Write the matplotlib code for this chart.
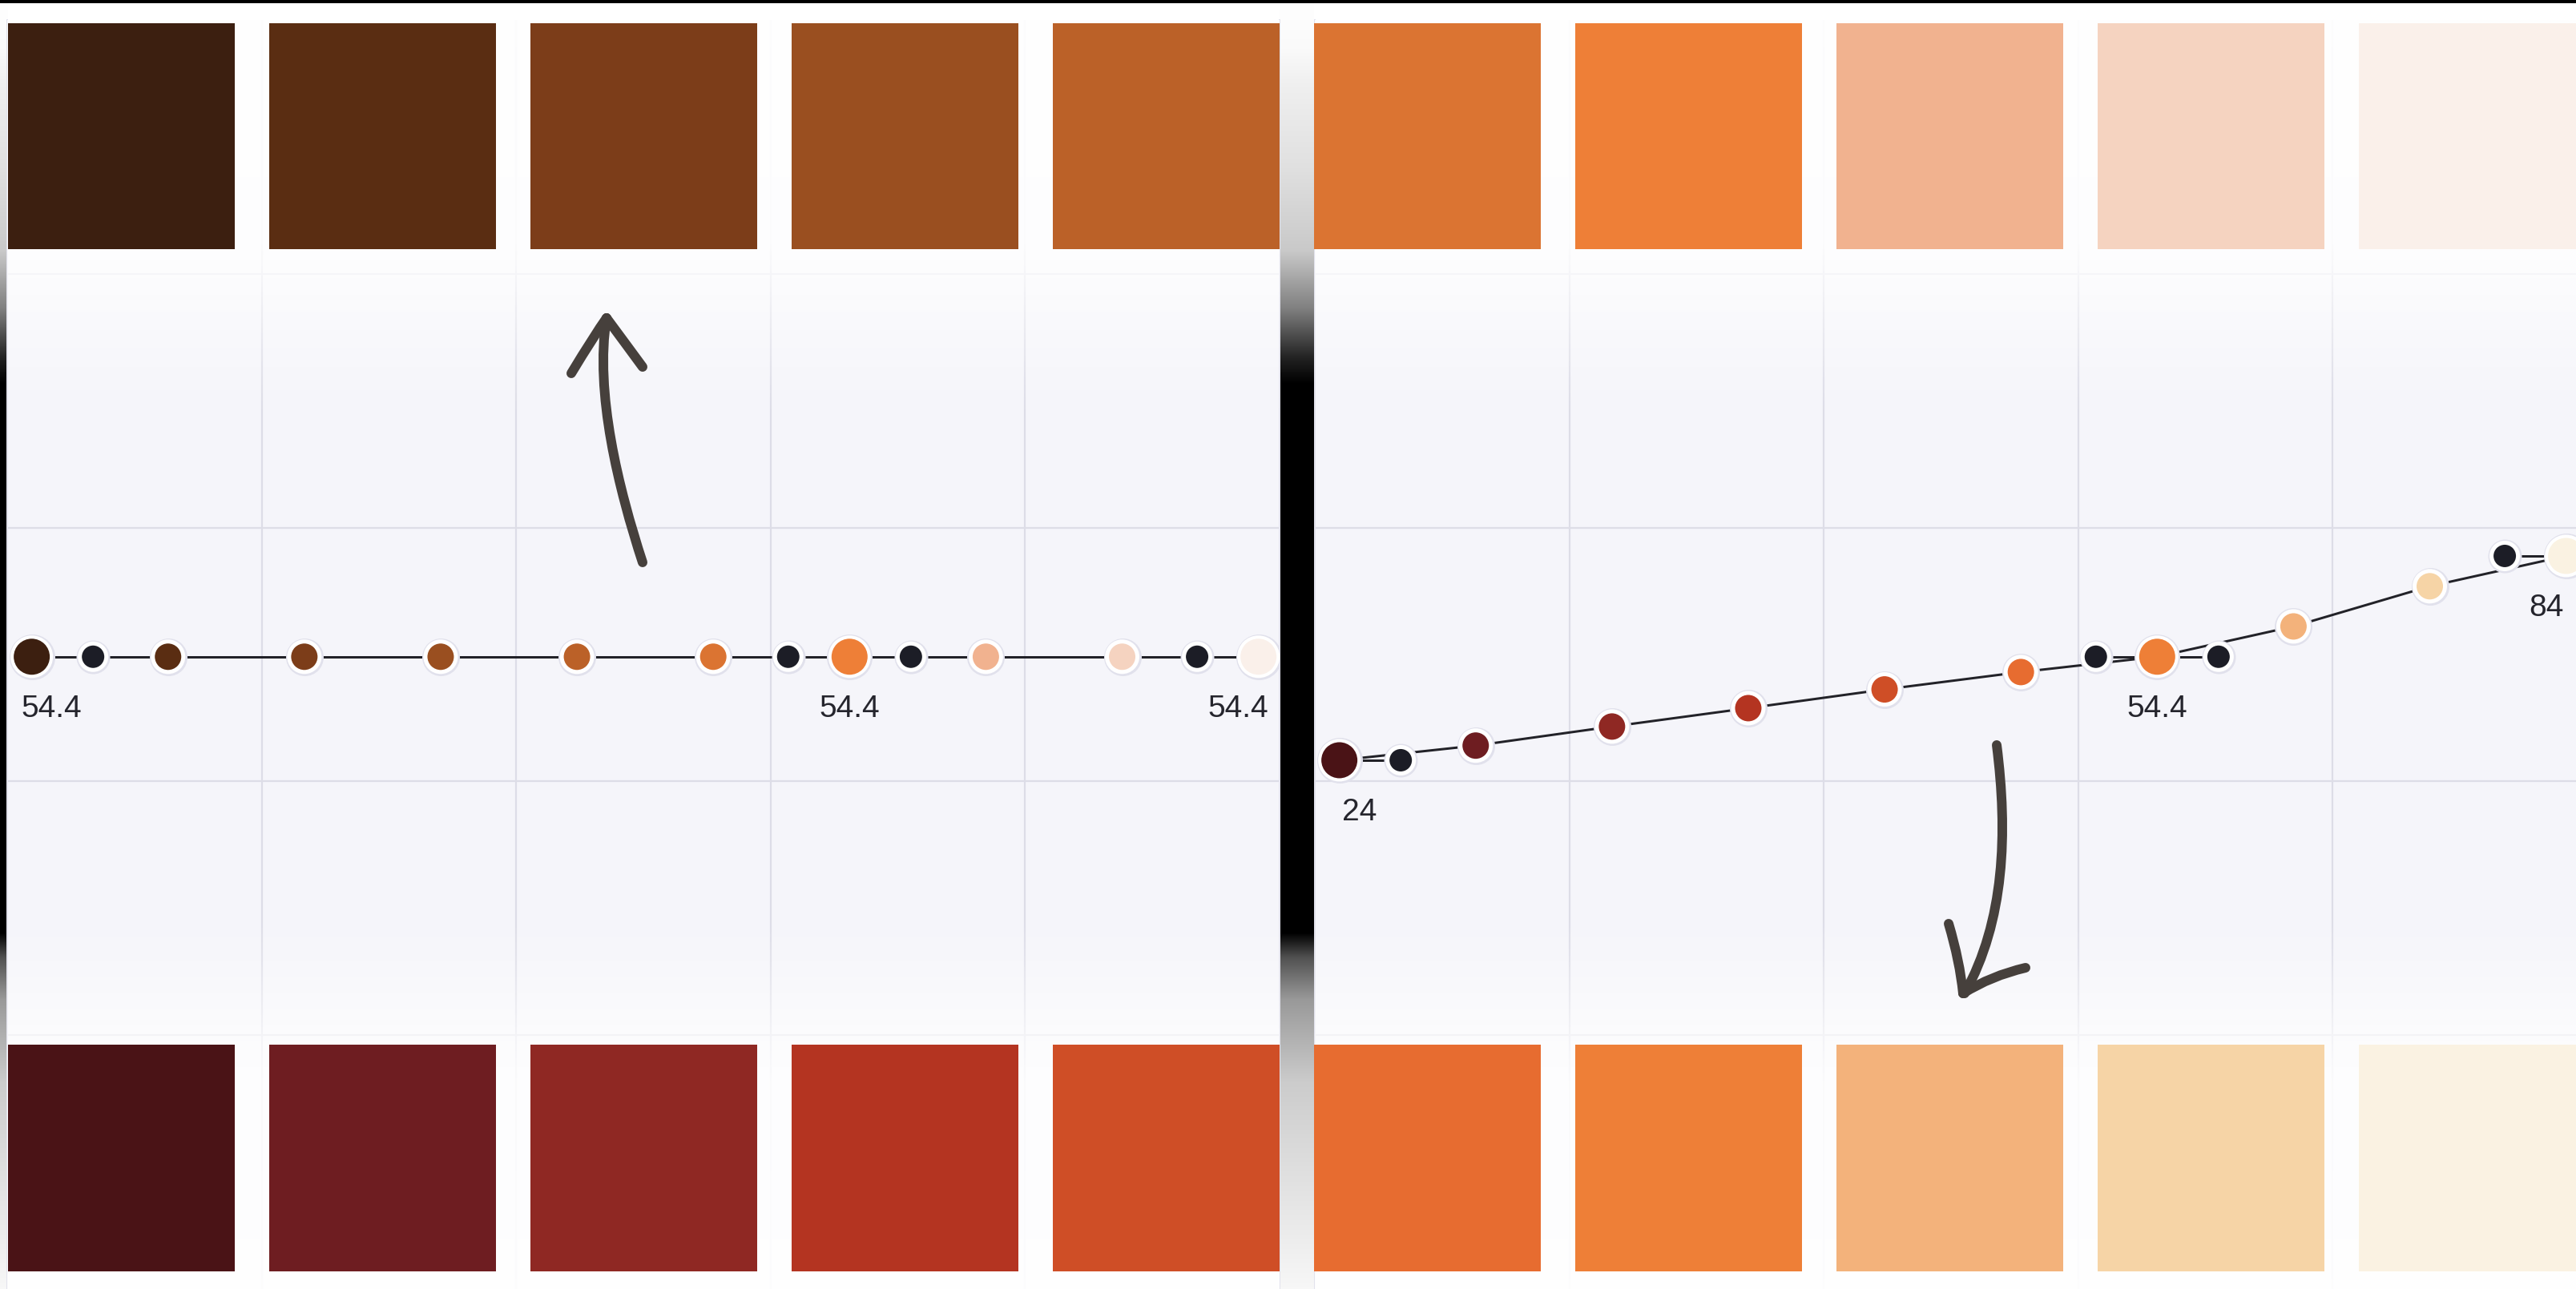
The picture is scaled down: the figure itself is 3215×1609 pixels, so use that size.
import numpy as np
import matplotlib
matplotlib.use("Agg")
import matplotlib.pyplot as plt
from matplotlib.patches import Rectangle, PathPatch
from matplotlib.path import Path

# ---------------- data ----------------
top_colors = ['#3C1F10', '#5A2D12', '#7C3D19', '#9A4F20', '#BB6128',
              '#DB7432', '#EE7F37', '#F1B28F', '#F5D3C0', '#FAF0EA']
bottom_colors = ['#4A1316', '#6E1D21', '#8F2823', '#B43421', '#CF4E26',
                 '#E76C30', '#EE7F37', '#F3B27B', '#F6D4A6', '#FAF2E2']
stop_positions = [0, 1, 2, 3, 4, 5, 6, 7, 8, 9]
left_values = [54.4, 54.4, 54.4, 54.4, 54.4, 54.4, 54.4, 54.4, 54.4, 54.4]
right_values = [24, 28.3, 33.9, 39.3, 44.8, 49.9, 54.4, 63.3, 75.1, 84]
key_stops = [0, 6, 9]
handle_positions = [0.45, 5.55, 6.45, 8.55]
handle_owner = [0, 6, 6, 9]
left_handle_values = [54.4, 54.4, 54.4, 54.4]
right_handle_values = [24, 54.4, 54.4, 84]

# ---------------- style ----------------
W, H = 3216, 1609
DPI = 100
PX = 72.0 / DPI  # points per pixel
HANDLE_COLOR = '#1C1D26'
LINE_COLOR = '#222228'
GRID_COLOR = '#DDDDE7'
PANEL_BG = '#F5F5FA'
ARROW_COLOR = '#46403C'
TEXT_COLOR = '#25252D'

fig = plt.figure(figsize=(W / DPI, H / DPI), dpi=DPI)


def frect(x0, y0, x1, y1):
    return [x0 / W, 1 - y1 / H, (x1 - x0) / W, (y1 - y0) / H]


# background: vertical black band gradient + white cards
bg = fig.add_axes([0, 0, 1, 1], zorder=0)
bg.set_xlim(0, W)
bg.set_ylim(H, 0)
bg.axis('off')
rows = np.arange(H)
grey = np.interp(rows,
                 [0, 62, 104, 208, 312, 385, 447, 478, 1164, 1195, 1247, 1351, 1455, 1609],
                 [1.0, 0.98, 0.94, 0.88, 0.79, 0.5, 0.13, 0.0, 0.0, 0.32, 0.6, 0.8, 0.87, 0.97])
band = np.repeat(grey[:, None], 2, axis=1)
bg.imshow(np.dstack([band, band, band]), extent=[0, W, H, 0], aspect='auto',
          interpolation='bilinear', zorder=0)
bg.add_patch(Rectangle((10, 0), 1587, H, color='white', zorder=1, lw=0))
bg.add_patch(Rectangle((1640, 0), W - 1640, H, color='white', zorder=1, lw=0))
bg.add_patch(Rectangle((0, 0), W, 4, color='black', zorder=2, lw=0))

# fade overlay profile for plot areas (py from 25 to 1609)
ov_rows = np.linspace(25, 1609, 400)
ov_alpha = np.interp(ov_rows,
                     [25, 300, 342, 400, 470, 520, 1140, 1200, 1260, 1295, 1350, 1609],
                     [0.92, 0.9, 0.72, 0.45, 0.15, 0.0, 0.0, 0.2, 0.5, 0.68, 0.86, 0.92])
overlay = np.zeros((len(ov_rows), 2, 4))
overlay[..., :3] = 1.0
overlay[..., 3] = ov_alpha[:, None]


def make_panel(x0, x1, values, handle_values, colors):
    ax = fig.add_axes(frect(x0, 25, x1, 1609), zorder=1)
    ax.set_facecolor(PANEL_BG)
    ax.set_xticks([])
    ax.set_yticks([])
    for s in ['top', 'bottom']:
        ax.spines[s].set_visible(False)
    for s in ['left', 'right']:
        ax.spines[s].set_color('#E2E2EC')
        ax.spines[s].set_linewidth(2 * PX)
        ax.spines[s].set_zorder(1)
    for f in [0.2, 0.4, 0.6, 0.8]:
        ax.plot([f, f], [0, 1], transform=ax.transAxes, color=GRID_COLOR,
                lw=2.2 * PX, zorder=1)
        ax.plot([0, 1], [f, f], transform=ax.transAxes, color=GRID_COLOR,
                lw=2.2 * PX, zorder=1)
    ax.imshow(overlay, extent=[0, 1, 0, 1], transform=ax.transAxes,
              aspect='auto', interpolation='bilinear', zorder=2)
    ax.set_xlim(-0.18, 9.155)
    ax.set_ylim(-131.3, 241.4)

    # curve through stops
    ax.plot(stop_positions, values, color=LINE_COLOR, lw=3 * PX, zorder=3,
            solid_capstyle='round')
    # handle segments
    for hp, hv, owner in zip(handle_positions, handle_values, handle_owner):
        ax.plot([stop_positions[owner], hp], [values[owner], hv],
                color=LINE_COLOR, lw=3 * PX, zorder=3)

    # markers
    def dots(xs, ys, cols, fill, ring, faint, z):
        path = fill + ring
        ax.scatter(xs, ys, s=(faint * PX) ** 2, c='#E1E1EC', lw=0, zorder=z)
        ax.scatter(xs, ys, s=(path * PX) ** 2, c=cols, edgecolors='white',
                   linewidths=ring * PX, zorder=z + 0.1)

    mid = [i for i in range(len(stop_positions)) if i not in key_stops]
    dots([stop_positions[i] for i in mid], [values[i] for i in mid],
         [colors[i] for i in mid], 33, 5, 47, 4)
    dots(handle_positions, handle_values, [HANDLE_COLOR] * len(handle_positions),
         28, 5, 42, 5)
    dots([stop_positions[i] for i in key_stops], [values[i] for i in key_stops],
         [colors[i] for i in key_stops], 45, 4, 57, 6)

    # labels under key stops
    label_dx = [25, 0, -25]
    for k, dx in zip(key_stops, label_dx):
        ax.annotate(f'{values[k]:g}', (stop_positions[k], values[k]),
                    xytext=(dx, -65), textcoords='offset pixels',
                    ha='center', va='center', fontsize=28, color=TEXT_COLOR,
                    family=['Liberation Sans', 'DejaVu Sans'], zorder=7)
    return ax


make_panel(9, 1597, left_values, left_handle_values, top_colors)
make_panel(1641, 3229, right_values, right_handle_values, bottom_colors)

# top layer: swatches and hand-drawn arrows
top = fig.add_axes([0, 0, 1, 1], zorder=5)
top.set_xlim(0, W)
top.set_ylim(H, 0)
top.axis('off')
top.patch.set_alpha(0)
for i, c in enumerate(top_colors):
    top.add_patch(Rectangle((10 + 326 * i, 29), 283, 282, color=c, lw=0))
for i, c in enumerate(bottom_colors):
    top.add_patch(Rectangle((10 + 326 * i, 1304), 283, 283, color=c, lw=0))


def stroke(verts, codes):
    top.add_patch(PathPatch(Path(verts, codes), fill=False, lw=12 * PX,
                            edgecolor=ARROW_COLOR, capstyle='round',
                            joinstyle='round'))


C4 = [Path.MOVETO, Path.CURVE4, Path.CURVE4, Path.CURVE4]
C3 = [Path.MOVETO, Path.CURVE3, Path.CURVE3]
# up arrow (left panel)
stroke([(802, 702), (772, 610), (742, 490), (757, 397)], C4)
stroke([(713, 466), (742, 418), (757, 397)], C3)
stroke([(757, 397), (780, 428), (802, 458)], C3)
# down arrow (right panel)
stroke([(2492, 930), (2506, 1040), (2502, 1150), (2452, 1240)], C4)
stroke([(2432, 1153), (2446, 1200), (2450, 1240)], C3)
stroke([(2450, 1240), (2485, 1218), (2528, 1208)], C3)

fig.savefig('out.png', dpi=DPI)
